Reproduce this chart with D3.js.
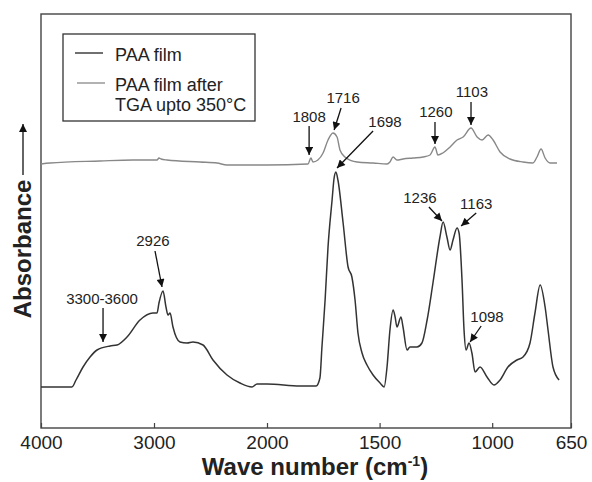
<!DOCTYPE html>
<html>
<head>
<meta charset="utf-8">
<script src="https://cdn.jsdelivr.net/npm/d3@7"></script>
<style>
  body { margin: 0; background: #fff; }
  svg { display: block; font-family: "Liberation Sans", Arial, sans-serif; }
</style>
</head>
<body>
<svg id="chart" width="592" height="482"></svg>
<script>
// wavenumber (cm-1) and absorbance (arbitrary units) for the PAA film
var paaWave = [4000, 3726, 3690, 3628, 3566, 3504, 3389, 3327, 3239, 3124, 3009, 2973, 2956, 2920,
    2894, 2876, 2858, 2832, 2770, 2708, 2655, 2566, 2478, 2354, 2239, 2133, 2088, 2000, 1853, 1782,
    1765, 1756, 1742, 1729, 1711, 1702, 1694, 1685, 1662, 1640, 1623, 1609, 1596, 1578, 1556, 1529,
    1498, 1480, 1467, 1454, 1440, 1431, 1423, 1405, 1396, 1378, 1365, 1334, 1312, 1289, 1263, 1232,
    1218, 1201, 1187, 1174, 1156, 1147, 1134, 1125, 1116, 1103, 1090, 1076, 1054, 1023, 992, 965,
    930, 890, 863, 832, 810, 787, 765, 752, 730, 703];
var paaAbs = [0.205, 0.205, 0.24, 0.305, 0.355, 0.39, 0.41, 0.415, 0.455, 0.54, 0.575, 0.575, 0.625, 0.685,
    0.605, 0.565, 0.575, 0.505, 0.43, 0.425, 0.43, 0.415, 0.34, 0.265, 0.225, 0.205, 0.22, 0.22, 0.21, 0.21,
    0.25, 0.405, 0.64, 0.905, 1.14, 1.25, 1.28, 1.24, 1.025, 0.805, 0.755, 0.64, 0.475, 0.375, 0.315, 0.265,
    0.225, 0.205, 0.305, 0.49, 0.59, 0.555, 0.505, 0.555, 0.505, 0.39, 0.405, 0.405, 0.425, 0.54, 0.725, 0.955,
    1.03, 0.955, 0.89, 0.94, 1.0, 0.975, 0.74, 0.49, 0.39, 0.425, 0.375, 0.28, 0.305, 0.255, 0.215, 0.24,
    0.305, 0.34, 0.355, 0.425, 0.575, 0.715, 0.605, 0.49, 0.305, 0.24];

// PAA film after TGA up to 350 C
var tgaWave = [4000, 3920, 3478, 3186, 2973, 2956, 2938, 2885, 2593, 2442, 2354, 2000, 1818, 1805, 1796,
    1774, 1751, 1729, 1707, 1689, 1676, 1654, 1600, 1529, 1467, 1454, 1440, 1423, 1396, 1352, 1307,
    1276, 1254, 1241, 1219, 1187, 1156, 1129, 1094, 1067, 1045, 1018, 996, 965, 921, 863, 819, 801,
    783, 765, 743, 712];
var tgaAbs = [1.32, 1.325, 1.335, 1.34, 1.34, 1.35, 1.345, 1.34, 1.33, 1.325, 1.315, 1.315, 1.32, 1.35, 1.33,
    1.34, 1.375, 1.44, 1.475, 1.455, 1.39, 1.355, 1.33, 1.325, 1.32, 1.33, 1.355, 1.34, 1.345, 1.35, 1.355,
    1.365, 1.405, 1.365, 1.375, 1.405, 1.44, 1.455, 1.5, 1.455, 1.44, 1.465, 1.44, 1.38, 1.345, 1.33, 1.325, 1.355,
    1.395, 1.35, 1.325, 1.325];

var xTicks = [4000, 3000, 2000, 1500, 1000, 650];

// peak labels: text position and arrow start/end, in [wavenumber, absorbance]
var peakLabels = ['1808', '1716', '1698', '1260', '1103', '2926', '3300-3600', '1236', '1163', '1098'];
var labelPos = [[1813, 1.53], [1662, 1.625], [1476, 1.505], [1250, 1.555], [1090, 1.655],
    [3009, 0.91], [3460, 0.62], [1321, 1.125], [1071, 1.095], [1023, 0.53]];
var arrowFrom = [[1813, 1.51], [1671, 1.6], [1529, 1.485], [1254, 1.53], [1094, 1.63],
    [2991, 0.885], [3451, 0.6], [1281, 1.105], [1071, 1.075], [1049, 0.51]];
var arrowTo = [[1813, 1.365], [1702, 1.49], [1689, 1.3], [1254, 1.42], [1094, 1.515],
    [2929, 0.705], [3451, 0.43], [1223, 1.035], [1138, 1.01], [1098, 0.43]];

var seriesNames = ['PAA film', 'PAA film after', 'TGA upto 350°C'];

d3.select(window).on('load', init);

function init() {
    var svg = d3.select('#chart');
    var x0 = 41, x1 = 571, y0 = 14, y1 = 428;

    var xScale = d3.scaleLinear()
        .domain([4000, 2000, 650])
        .range([x0, 267, x1]);

    var yScale = d3.scaleLinear()
        .domain([0, 2.07])
        .range([y1, y0]);

    svg.append('defs').append('marker')
        .attr('id', 'head')
        .attr('viewBox', '0 0 10 10')
        .attr('refX', 10).attr('refY', 5)
        .attr('markerWidth', 9).attr('markerHeight', 8)
        .attr('markerUnits', 'userSpaceOnUse')
        .attr('orient', 'auto')
        .append('path')
        .attr('d', 'M0,0 L10,5 L0,10 z')
        .attr('fill', '#111');

    // frame
    svg.append('rect')
        .attr('x', x0).attr('y', y0)
        .attr('width', x1 - x0).attr('height', y1 - y0)
        .attr('fill', 'none')
        .attr('stroke', '#444')
        .attr('stroke-width', 1.4);

    var xAxis = svg.append('g')
        .attr('transform', 'translate(0,' + y1 + ')')
        .call(d3.axisBottom(xScale).tickValues(xTicks).tickSize(-5).tickPadding(8).tickFormat(d3.format('d')));
    xAxis.select('.domain').remove();
    xAxis.selectAll('line').attr('stroke', '#444').attr('stroke-width', 1.2);
    xAxis.selectAll('text')
        .attr('font-family', '"Liberation Sans", Arial, sans-serif')
        .attr('font-size', '19px')
        .attr('fill', '#222');

    var title = svg.append('text')
        .attr('x', 315).attr('y', 475)
        .attr('text-anchor', 'middle')
        .attr('font-size', '24px')
        .attr('font-weight', 'bold')
        .attr('fill', '#222');
    title.append('tspan').text('Wave number (cm');
    title.append('tspan').attr('font-size', '14px').attr('dy', '-9').text('-1');
    title.append('tspan').attr('dy', '9').text(')');

    // y label with arrow
    svg.append('text')
        .attr('transform', 'translate(31,249) rotate(-90)')
        .attr('text-anchor', 'middle')
        .attr('font-size', '24px')
        .attr('font-weight', 'bold')
        .attr('fill', '#222')
        .text('Absorbance');
    svg.append('line')
        .attr('x1', 23).attr('y1', 175)
        .attr('x2', 23).attr('y2', 124)
        .attr('stroke', '#111')
        .attr('stroke-width', 1.3)
        .attr('marker-end', 'url(#head)');

    var line = d3.line()
        .curve(d3.curveMonotoneX)
        .x(function(d) { return xScale(d[0]); })
        .y(function(d) { return yScale(d[1]); });

    svg.append('path')
        .datum(d3.zip(tgaWave, tgaAbs))
        .attr('d', line)
        .attr('fill', 'none')
        .attr('stroke', '#888')
        .attr('stroke-width', 1.4);

    svg.append('path')
        .datum(d3.zip(paaWave, paaAbs))
        .attr('d', line)
        .attr('fill', 'none')
        .attr('stroke', '#333')
        .attr('stroke-width', 1.5);

    // peak annotations
    var notes = svg.append('g');
    notes.selectAll('line')
        .data(peakLabels)
        .enter()
        .append('line')
        .attr('x1', function(d, i) { return xScale(arrowFrom[i][0]); })
        .attr('y1', function(d, i) { return yScale(arrowFrom[i][1]); })
        .attr('x2', function(d, i) { return xScale(arrowTo[i][0]); })
        .attr('y2', function(d, i) { return yScale(arrowTo[i][1]); })
        .attr('stroke', '#111')
        .attr('stroke-width', 1.3)
        .attr('marker-end', 'url(#head)');
    notes.selectAll('text')
        .data(peakLabels)
        .enter()
        .append('text')
        .attr('x', function(d, i) { return xScale(labelPos[i][0]); })
        .attr('y', function(d, i) { return yScale(labelPos[i][1]); })
        .attr('text-anchor', 'middle')
        .attr('font-size', '15px')
        .attr('fill', '#222')
        .text(function(d) { return d; });

    // legend
    var legend = svg.append('g');
    legend.append('rect')
        .attr('x', 63).attr('y', 34)
        .attr('width', 192).attr('height', 87)
        .attr('fill', '#fff')
        .attr('stroke', '#333')
        .attr('stroke-width', 1.3);
    legend.append('line')
        .attr('x1', 75).attr('x2', 103).attr('y1', 53).attr('y2', 53)
        .attr('stroke', '#333').attr('stroke-width', 1.4);
    legend.append('line')
        .attr('x1', 77).attr('x2', 105).attr('y1', 83).attr('y2', 83)
        .attr('stroke', '#888').attr('stroke-width', 1.3);
    legend.selectAll('text')
        .data(seriesNames)
        .enter()
        .append('text')
        .attr('x', 115)
        .attr('y', function(d, i) { return [61, 91, 111][i]; })
        .attr('font-size', '18px')
        .attr('fill', '#222')
        .text(function(d) { return d; });
}
</script>
</body>
</html>
